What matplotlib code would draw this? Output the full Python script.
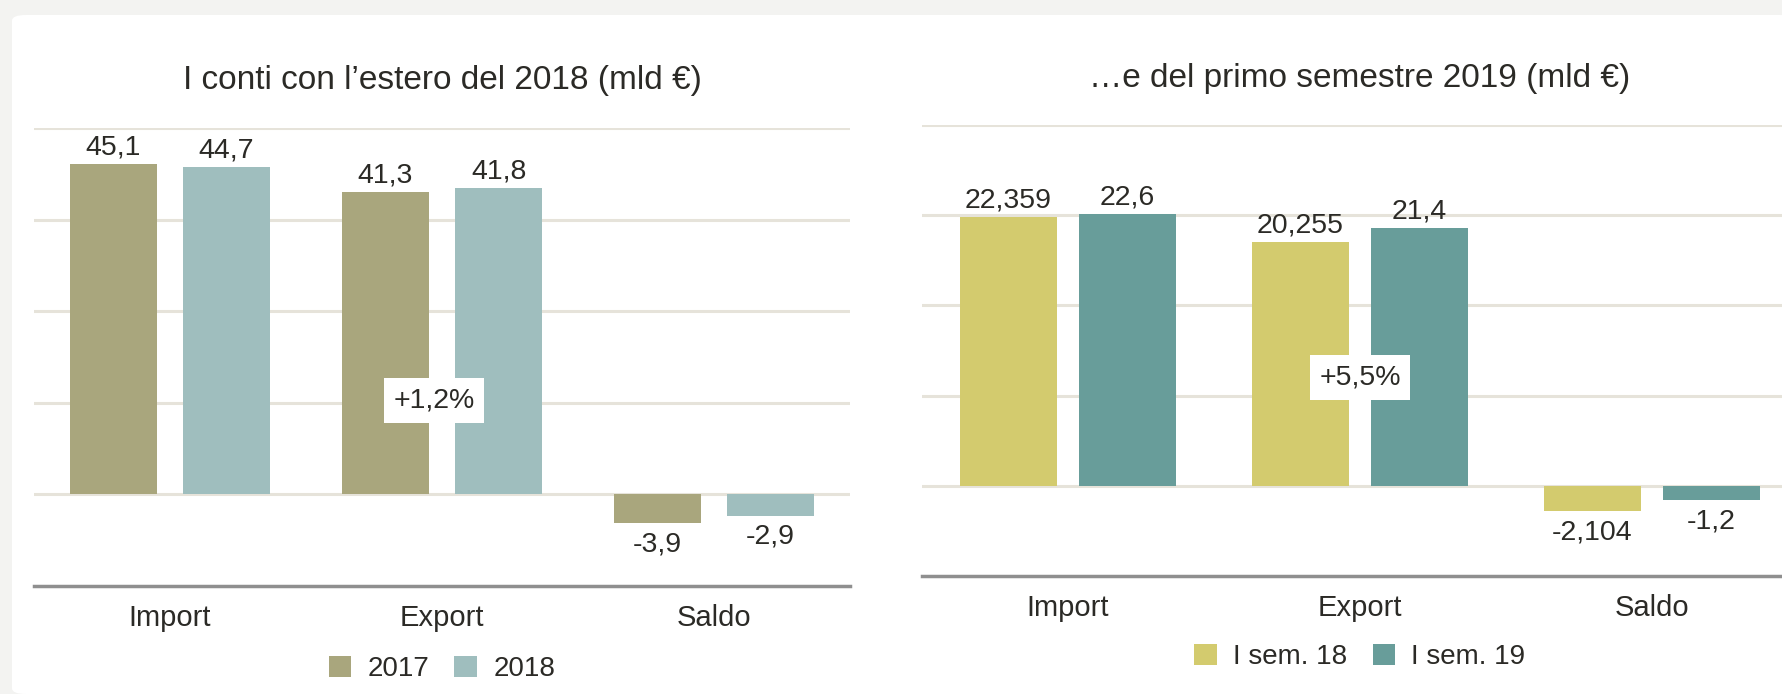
import matplotlib
matplotlib.use("Agg")
import matplotlib.pyplot as plt
from matplotlib.patches import FancyBboxPatch, Patch
import numpy as np

# ============================================================
# DATA
# ============================================================
CATEGORIES = ["Import", "Export", "Saldo"]

TITLE_2018  = "I conti con l’estero del 2018 (mld €)"
SERIES_2017 = [45.1, 41.3, -3.9]
SERIES_2018 = [44.7, 41.8, -2.9]
LEGEND_2018 = ["2017", "2018"]
NOTE_2018   = "+1,2%"

TITLE_2019   = "…e del primo semestre 2019 (mld €)"
SERIES_SEM18 = [22.359, 20.255, -2.104]
SERIES_SEM19 = [22.6, 21.4, -1.2]
LEGEND_2019  = ["I sem. 18", "I sem. 19"]
NOTE_2019    = "+5,5%"

# ============================================================
# STYLE
# ============================================================
TEXT_COLOR = "#2b2a26"
GRID_COLOR = "#e6e3da"
AXIS_COLOR = "#8f8f8f"
BG_COLOR   = "#f3f3f1"
LABEL_SIZE = 20.5

plt.rcParams["font.family"] = ["Liberation Sans", "DejaVu Sans"]
plt.rcParams["text.color"] = TEXT_COLOR


def fmt(v: float) -> str:
    return f"{v}".replace(".", ",")


def draw_panel(ax, series_a, series_b, colors, legend_labels, note, note_xy,
               ylim, step, width, offset, legend_y):
    x = np.arange(len(CATEGORIES))
    bars_a = ax.bar(x - offset, series_a, width, color=colors[0], zorder=3)
    bars_b = ax.bar(x + offset, series_b, width, color=colors[1], zorder=3)

    for bars in (bars_a, bars_b):
        for b in bars:
            v = b.get_height()
            cx = b.get_x() + b.get_width() / 2
            if v >= 0:
                ax.annotate(fmt(v), (cx, v), xytext=(0, 7), textcoords="offset points",
                            ha="center", va="baseline", fontsize=LABEL_SIZE, zorder=5)
            else:
                ax.annotate(fmt(v), (cx, v), xytext=(0, -6), textcoords="offset points",
                            ha="center", va="top", fontsize=LABEL_SIZE, zorder=5)

    ax.text(note_xy[0], note_xy[1], note, ha="center", va="center", fontsize=LABEL_SIZE,
            zorder=6,
            bbox=dict(boxstyle="square,pad=0.32", facecolor="white", edgecolor="none"))

    ax.set_xlim(-0.5, len(CATEGORIES) - 0.5)
    ax.set_ylim(*ylim)
    ax.set_yticks(np.arange(ylim[0] + step, ylim[1] + step / 2, step))
    ax.yaxis.grid(True, color=GRID_COLOR, linewidth=2.2)
    ax.set_axisbelow(True)
    ax.tick_params(axis="y", left=False, labelleft=False)
    ax.set_xticks(x)
    ax.set_xticklabels(CATEGORIES, fontsize=21)
    ax.tick_params(axis="x", length=0, pad=13, colors=TEXT_COLOR)
    for s in ("top", "left", "right"):
        ax.spines[s].set_visible(False)
    ax.spines["bottom"].set_color(AXIS_COLOR)
    ax.spines["bottom"].set_linewidth(2.5)
    ax.set_facecolor("none")

    handles = [Patch(facecolor=c, edgecolor="none") for c in colors]
    ax.legend(handles, legend_labels, loc="center", bbox_to_anchor=(0.5, legend_y),
              ncol=2, frameon=False, fontsize=20, handlelength=0.8, handleheight=0.8,
              handletextpad=0.6, columnspacing=0.9)


def main() -> None:
    fig = plt.figure(figsize=(17.82, 6.94), dpi=100)
    fig.patch.set_facecolor(BG_COLOR)

    card = FancyBboxPatch((12 / 1782, 0), 1.0, 1 - 15 / 694,
                          boxstyle="round,pad=0,rounding_size=0.008",
                          transform=fig.transFigure, facecolor="white",
                          edgecolor="none", zorder=-10)
    fig.patches.append(card)

    ax1 = fig.add_axes([34 / 1782, 1 - 586 / 694, 816 / 1782, 458 / 694])
    ax2 = fig.add_axes([922 / 1782, 1 - 576 / 694, 876 / 1782, 451 / 694])

    draw_panel(ax1, SERIES_2017, SERIES_2018, ["#a9a67d", "#9fbebe"], LEGEND_2018,
               NOTE_2018, (0.97, 12.8), (-12.5, 50), 12.5, 0.32, 0.208, -0.181)
    draw_panel(ax2, SERIES_SEM18, SERIES_SEM19, ["#d3cb6e", "#689d9a"], LEGEND_2019,
               NOTE_2019, (1.0, 9.0), (-7.5, 30), 7.5, 0.33, 0.204, -0.18)

    fig.text(442 / 1782, 1 - 81 / 694, TITLE_2018, ha="center", va="center", fontsize=24)
    fig.text(1360 / 1782, 1 - 79 / 694, TITLE_2019, ha="center", va="center", fontsize=24)

    fig.savefig("out.png", dpi=100, facecolor=fig.get_facecolor())
    plt.close(fig)


if __name__ == "__main__":
    main()
